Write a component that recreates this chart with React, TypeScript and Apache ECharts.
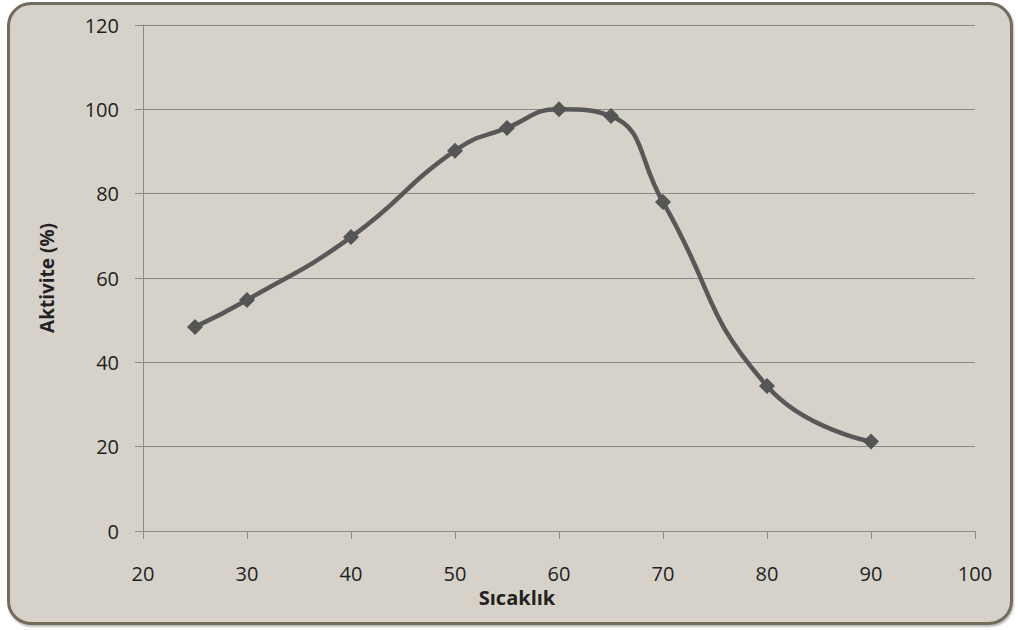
import React, { useEffect, useRef } from "react";
import * as echarts from "echarts";

const temps = [25, 30, 40, 50, 55, 60, 65, 70, 80, 90];
const activity = [48.4, 54.8, 69.7, 90.2, 95.6, 100, 98.4, 78, 34.4, 21.2];
const xName = "Sıcaklık";
const yName = "Aktivite (%)";

export default function App() {
  const ref = useRef<HTMLDivElement>(null);
  useEffect(() => {
    if (!ref.current) return;
    const chart = echarts.init(ref.current, undefined, { renderer: "svg" });
    const font = "'Open Sans', sans-serif";
    chart.setOption({
      animation: false,
      grid: { left: 143, right: 43, top: 25, bottom: 99 },
      xAxis: {
        type: "value",
        min: 20,
        max: 100,
        interval: 10,
        name: xName,
        nameLocation: "middle",
        nameGap: 49,
        nameTextStyle: { fontFamily: font, fontSize: 20, fontWeight: "bold", color: "#222", padding: [0, 84, 0, 0] },
        axisLine: { lineStyle: { color: "#8a8a8a", width: 1 } },
        axisTick: { show: true, length: 8, lineStyle: { color: "#8a8a8a" } },
        axisLabel: { margin: 32, fontFamily: font, fontSize: 20, color: "#1e1e1e" },
        splitLine: { show: false },
      },
      yAxis: {
        type: "value",
        min: 0,
        max: 120,
        interval: 20,
        name: yName,
        nameLocation: "middle",
        nameGap: 87,
        nameTextStyle: { fontFamily: font, fontSize: 19, fontWeight: "bold", color: "#222" },
        axisLine: { show: true, lineStyle: { color: "#8a8a8a", width: 1 } },
        axisTick: { show: true, length: 8, lineStyle: { color: "#8a8a8a" } },
        axisLabel: { margin: 24, fontFamily: font, fontSize: 20, color: "#1e1e1e" },
        splitLine: { show: true, lineStyle: { color: "#8c8a86", width: 1 } },
      },
      series: [
        {
          type: "line",
          data: temps.map((t, i) => [t, activity[i]]),
          smooth: 0.5,
          symbol: "diamond",
          symbolSize: 16,
          lineStyle: { color: "#585858", width: 4.5 },
          itemStyle: { color: "#555555" },
        },
      ],
    });
    return () => chart.dispose();
  }, []);
  return (
    <div style={{ position: "fixed", left: 0, top: 0, width: 1018, height: 630, background: "#fff" }}>
      <div
        style={{
          position: "absolute",
          left: 7,
          top: 2,
          width: 1000,
          height: 617,
          border: "3px solid #736c5c",
          borderRadius: 24,
          background: "#d6d2c9",
          boxShadow: "1px 2px 2px rgba(0,0,0,0.25)",
        }}
      />
      <div ref={ref} style={{ position: "absolute", left: 0, top: 0, width: 1018, height: 630 }} />
    </div>
  );
}
